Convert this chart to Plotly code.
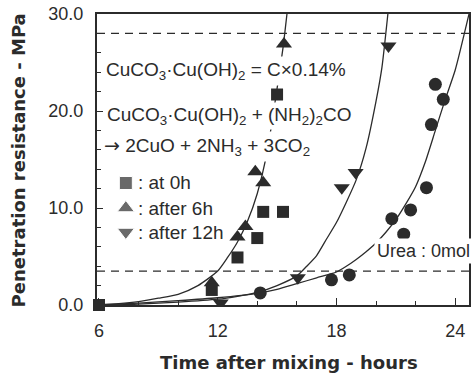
import plotly.graph_objects as go

# ---- data ----
hours_0h = [6, 11.7, 13.0, 14.0, 14.3, 15.3, 15.0]
mpa_0h = [0, 1.55, 4.9, 6.9, 9.6, 9.6, 21.7]

hours_6h = [11.7, 13.0, 13.4, 13.9, 14.3, 15.35]
mpa_6h = [2.3, 7.0, 8.1, 13.75, 12.6, 26.9]

hours_12h = [12.15, 16.05, 18.27, 18.97, 20.63]
mpa_12h = [0.2, 2.8, 12.1, 13.65, 26.7]

hours_urea0 = [14.15, 17.75, 18.65, 20.8, 21.4, 21.75, 22.55, 22.8, 23.0, 23.4]
mpa_urea0 = [1.25, 2.6, 3.1, 8.9, 7.3, 9.8, 12.1, 18.6, 22.75, 21.2]

# fitted curves
fit_06h_t = [6, 7, 8, 9, 10, 11, 12, 12.5, 13, 13.5, 14, 14.5, 15, 15.3, 15.5]
fit_06h_p = [0.05, 0.15, 0.35, 0.7, 1.1, 2.0, 3.5, 4.9, 6.5, 8.6, 11.5, 15.8, 22.3, 26.5, 30]

fit_12h_t = [6, 8, 10, 12, 13, 14, 15, 16, 16.5, 17, 17.5, 18, 18.5, 19, 19.5, 20, 20.3, 20.6]
fit_12h_p = [0, 0.1, 0.3, 0.6, 0.9, 1.3, 2.0, 3.0, 4.0, 5.1, 6.8, 8.5, 10.6, 12.9, 16.2, 21.0, 24.5, 30]

fit_urea0_t = [6, 8, 10, 12, 14, 15, 16, 17, 18, 18.5, 19, 19.5, 20, 20.5, 21, 21.5, 22, 22.5, 23, 23.5, 24, 24.7]
fit_urea0_p = [0, 0.2, 0.45, 0.75, 1.2, 1.6, 2.2, 2.8, 3.4, 4.0, 4.7, 5.5, 6.4, 7.5, 8.8, 10.4, 12.2, 14.8, 18.0, 21.2, 24.2, 30]

set_levels = [3.5, 28.0]

x_ticks = [6, 12, 18, 24]
y_ticks = [0, 10, 20, 30]
y_ticktext = ["0.0", "10.0", "20.0", "30.0"]

legend_labels = [": at 0h", ": after 6h", ": after 12h"]
legend_symbols = ["square", "triangle-up", "triangle-down"]

# ---- style ----
INK = "#2b2b2b"
FONT = "Liberation Sans, Arial, Helvetica, sans-serif"
BOLD_FONT = "DejaVu Sans, Liberation Sans, Arial, sans-serif"
W, H = 473, 374
ML, MR, MT, MB = 97, 2, 14, 69
PW, PH = W - ML - MR, H - MT - MB


def px(xp):
    return (xp - ML) / PW


def py(yp):
    return (H - MB - yp) / PH


fig = go.Figure()

line_style = dict(color=INK, width=1.3, shape="spline", smoothing=0.6)
for t, p in [(fit_06h_t, fit_06h_p), (fit_12h_t, fit_12h_p), (fit_urea0_t, fit_urea0_p)]:
    fig.add_trace(go.Scatter(x=t, y=p, mode="lines", line=line_style,
                             hoverinfo="skip", showlegend=False))

fig.add_trace(go.Scatter(x=hours_urea0, y=mpa_urea0, mode="markers",
                         marker=dict(symbol="circle", size=13, color=INK), showlegend=False))
fig.add_trace(go.Scatter(x=hours_12h, y=mpa_12h, mode="markers",
                         marker=dict(symbol="triangle-down", size=14, color=INK), showlegend=False))
fig.add_trace(go.Scatter(x=hours_6h, y=mpa_6h, mode="markers",
                         marker=dict(symbol="triangle-up", size=14, color=INK), showlegend=False))
fig.add_trace(go.Scatter(x=hours_0h, y=mpa_0h, mode="markers", cliponaxis=False,
                         marker=dict(symbol="square", size=12, color=INK), showlegend=False))

# legend key markers on an overlay (paper-like) axis
leg_y_px = [183, 208, 232]
fig.add_trace(go.Scatter(x=[px(126)] * 3, y=[py(v) for v in leg_y_px], mode="markers",
                         xaxis="x2", yaxis="y2",
                         marker=dict(symbol=legend_symbols, size=[13, 15, 15], color=INK),
                         showlegend=False, hoverinfo="skip"))

for lvl in set_levels:
    fig.add_shape(type="line", xref="paper", x0=0, x1=1, yref="y", y0=lvl, y1=lvl,
                  line=dict(color=INK, width=1.3, dash="8px,6px"))

ann = []
tf = dict(family=FONT, size=19, color=INK)
ann.append(dict(x=px(103), y=py(71), text="CuCO<sub>3</sub>·Cu(OH)<sub>2</sub> = C×0.14%",
                bgcolor="white", borderpad=2))
ann.append(dict(x=px(105), y=py(116), text="CuCO<sub>3</sub>·Cu(OH)<sub>2</sub> + (NH<sub>2</sub>)<sub>2</sub>CO",
                bgcolor="white", borderpad=1))
ann.append(dict(x=px(101), y=py(146),
                text="<span style='font-family:DejaVu Sans'>→</span> 2CuO + 2NH<sub>3</sub> + 3CO<sub>2</sub>",
                bgcolor="white", borderpad=2))
for lab, yv in zip(legend_labels, leg_y_px):
    ann.append(dict(x=px(136), y=py(yv), text=lab))
annotations = []
for a in ann:
    annotations.append(dict(xref="paper", yref="paper", xanchor="left", yanchor="middle",
                            showarrow=False, font=tf, **a))
annotations.append(dict(xref="paper", yref="paper", x=px(375), y=py(251), xanchor="left",
                        yanchor="middle", showarrow=False, text="Urea : 0mol",
                        font=dict(family=FONT, size=18, color=INK),
                        bgcolor="white", borderpad=2))
annotations.append(dict(xref="paper", yref="paper", x=px(18), y=py(160), xanchor="center",
                        yanchor="middle", showarrow=False, textangle=-90,
                        text="<b>Penetration resistance - MPa</b>",
                        font=dict(family=BOLD_FONT, size=18, color=INK)))
annotations.append(dict(xref="paper", yref="paper", x=px(290), y=py(362), xanchor="center",
                        yanchor="middle", showarrow=False,
                        text="<b>Time after mixing - hours</b>",
                        font=dict(family=BOLD_FONT, size=18, color=INK)))

fig.update_layout(
    width=W, height=H, autosize=False,
    margin=dict(l=ML, r=MR, t=MT, b=MB, pad=0),
    paper_bgcolor="white", plot_bgcolor="white",
    font=dict(family=FONT, size=18, color=INK),
    annotations=annotations,
    xaxis=dict(range=[5.9, 24.7], tickvals=x_ticks, ticks="inside", ticklen=7, tickwidth=1.3,
               tickcolor=INK, showgrid=False, zeroline=False, showline=True, linewidth=2,
               linecolor=INK, mirror=True, ticklabelstandoff=8,
               tickfont=dict(family=FONT, size=18, color=INK),
               minor=dict(dtick=2, tick0=6, ticks="inside", ticklen=4, tickcolor=INK, tickwidth=1.3)),
    yaxis=dict(range=[0, 30], tickvals=y_ticks, ticktext=y_ticktext, ticks="inside", ticklen=6,
               tickwidth=1.3, tickcolor=INK, showgrid=False, zeroline=False, showline=True,
               linewidth=2, linecolor=INK, mirror=True, ticklabelstandoff=8,
               tickfont=dict(family=FONT, size=18, color=INK),
               minor=dict(dtick=2, ticks="inside", ticklen=4, tickcolor=INK, tickwidth=1.3)),
    xaxis2=dict(overlaying="x", range=[0, 1], visible=False),
    yaxis2=dict(overlaying="y", range=[0, 1], visible=False),
    showlegend=False,
)

fig.write_html("out.html")
